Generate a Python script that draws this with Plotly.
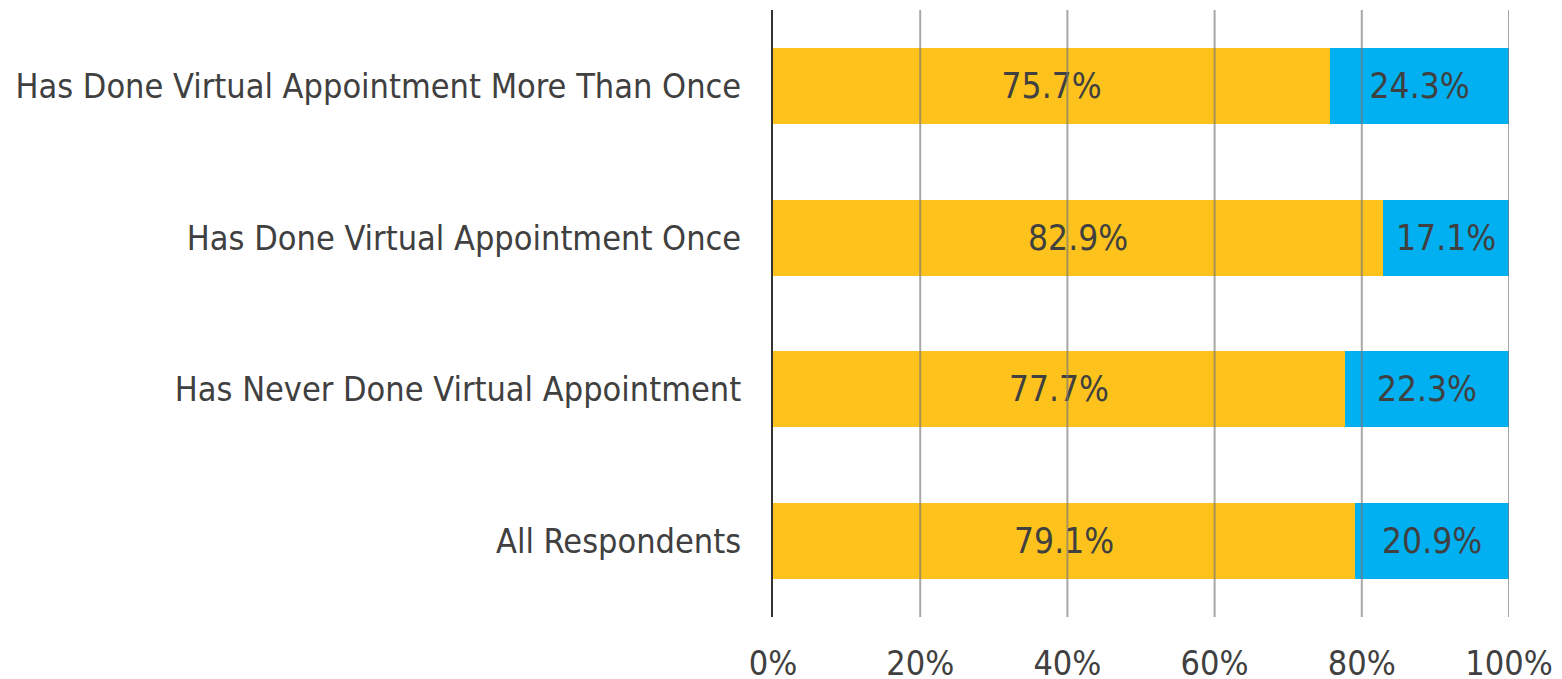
import plotly.graph_objects as go

categories = ["Has Done Virtual Appointment More Than Once",
              "Has Done Virtual Appointment Once",
              "Has Never Done Virtual Appointment",
              "All Respondents"]
yes_vals = [75.7, 82.9, 77.7, 79.1]
no_vals = [24.3, 17.1, 22.3, 20.9]
tick_vals = [0, 20, 40, 60, 80, 100]
tick_text = ["0%", "20%", "40%", "60%", "80%", "100%"]

FONT = "DejaVu Sans Condensed"
TXT = "#404040"

fig = go.Figure()
fig.add_trace(go.Bar(
    y=categories, x=yes_vals, orientation="h", width=0.5,
    marker=dict(color="#FDC31C", line=dict(width=0)),
    text=[f"{v:.1f}%" for v in yes_vals], textposition="inside",
    insidetextanchor="middle", textfont=dict(family=FONT, size=35, color=TXT),
    name="Yes"))
fig.add_trace(go.Bar(
    y=categories, x=no_vals, orientation="h", width=0.5,
    marker=dict(color="#00B0F0", line=dict(width=0)),
    text=[f"{v:.1f}%" for v in no_vals], textposition="inside",
    insidetextanchor="middle", textfont=dict(family=FONT, size=35, color=TXT),
    name="No"))

for t in tick_vals[1:]:
    fig.add_shape(type="line", xref="x", yref="paper", x0=t, x1=t, y0=0, y1=1,
                  line=dict(color="rgba(120,120,120,0.65)", width=2), layer="above")

fig.update_layout(
    barmode="stack",
    width=1554, height=671,
    margin=dict(l=765, r=53, t=2, b=62),
    plot_bgcolor="white", paper_bgcolor="white",
    showlegend=False,
    uniformtext=dict(mode="show", minsize=10),
    xaxis=dict(range=[0, 100], tickvals=tick_vals, ticktext=tick_text,
               showgrid=False, zeroline=False, showline=False, automargin=False,
               tickfont=dict(family=FONT, size=34, color=TXT), ticks="",
               ticklabelstandoff=23),
    yaxis=dict(categoryorder="array", categoryarray=categories[::-1],
               range=[-0.5, 3.5], showgrid=False, zeroline=False, automargin=False,
               showline=True, linecolor="#333333", linewidth=2,
               tickfont=dict(family=FONT, size=34, color=TXT), ticks="",
               ticklabelstandoff=23),
)

fig.write_html("out.html")
